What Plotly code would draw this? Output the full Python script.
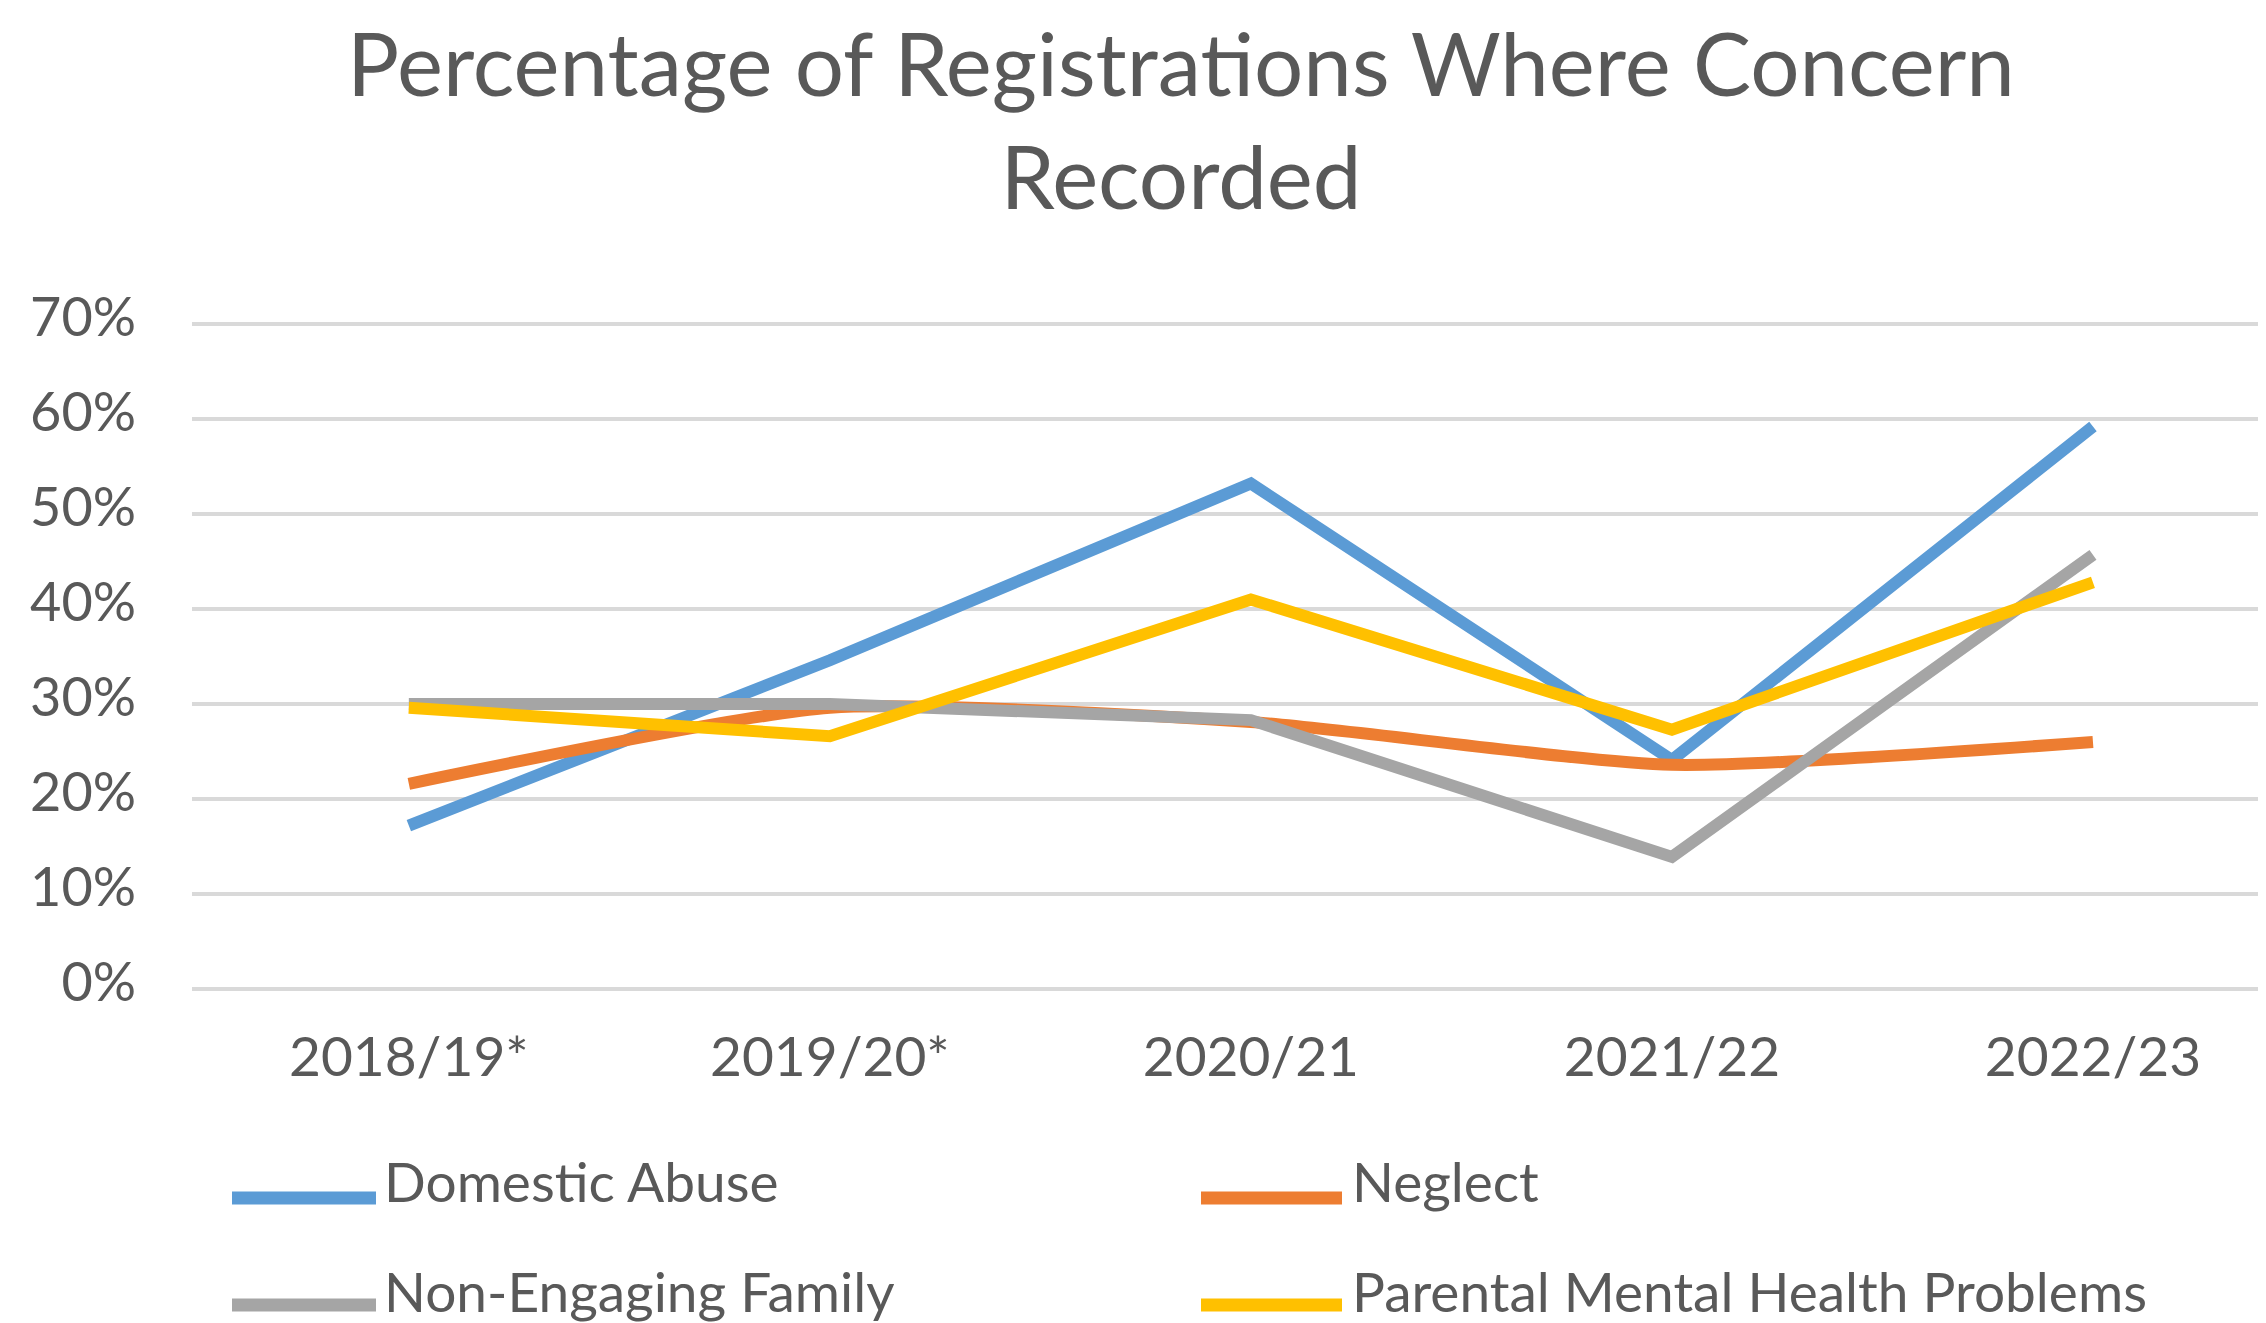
import plotly.graph_objects as go

categories = ["2018/19*", "2019/20*", "2020/21", "2021/22", "2022/23"]
domestic_abuse = [17.2, 34.6, 53.2, 24.1, 59.2]
neglect = [21.6, 29.6, 28.1, 23.6, 26.0]
non_engaging = [30.0, 30.0, 28.3, 13.9, 45.7]
parental_mh = [29.6, 26.6, 41.0, 27.3, 42.8]

series_names = ["Domestic Abuse", "Neglect", "Non-Engaging Family", "Parental Mental Health Problems"]
series_values = [domestic_abuse, neglect, non_engaging, parental_mh]
colors = ["#5B9BD5", "#ED7D31", "#A5A5A5", "#FFC000"]
y_ticks = [0, 10, 20, 30, 40, 50, 60, 70]
title_text = "Percentage of Registrations Where Concern<br>Recorded"

W, H = 2266, 1323
L, R, T, B = 184, 2266, 314, 981
FONT = "Lato, 'Open Sans', sans-serif"
TXT = "#595959"

fig = go.Figure()
for name, vals, col in zip(series_names, series_values, colors):
    shape = "spline" if name == "Neglect" else "linear"
    fig.add_trace(go.Scatter(
        x=list(range(len(categories))), y=vals, name=name, mode="lines",
        line=dict(color=col, width=12, shape=shape, smoothing=0.6),
        showlegend=False, hoverinfo="x+y+name"))

def px(xp):
    return (xp - L) / (R - L)

def py(yp):
    return (B - yp) / (B - T)

# manual legend
leg_cols = [(224, 368, 374), (1193, 1334, 1342)]
leg_rows = [(1173, 1190), (1283, 1297)]
for i, (name, col) in enumerate(zip(series_names, colors)):
    c = leg_cols[i % 2]
    r_text, r_line = leg_rows[i // 2]
    fig.add_shape(type="line", xref="paper", yref="paper",
                  x0=px(c[0]), x1=px(c[1]), y0=py(r_line), y1=py(r_line),
                  line=dict(color=col, width=13))
    fig.add_annotation(xref="paper", yref="paper", x=px(c[2]), y=py(r_text),
                       text=name, showarrow=False, xanchor="left", yanchor="middle",
                       font=dict(family=FONT, size=55, color=TXT))

fig.update_layout(
    width=W, height=H,
    margin=dict(l=L, r=W - R, t=T, b=H - B, pad=0),
    paper_bgcolor="white", plot_bgcolor="white",
    title=dict(text=title_text, x=1173 / W, xanchor="center", xref="container",
               y=1 - 88 / H, yref="container", yanchor="top",
               font=dict(family=FONT, size=87, color=TXT)),
    xaxis=dict(tickmode="array", tickvals=list(range(len(categories))), ticktext=categories,
               range=[-0.515, 4.43], showgrid=False, zeroline=False, showline=False,
               ticks="", ticklabelstandoff=31,
               tickfont=dict(family=FONT, size=55, color=TXT)),
    yaxis=dict(range=[0, 70.2], tickvals=y_ticks, ticktext=[f"{v}%" for v in y_ticks],
               showgrid=True, gridcolor="#D9D9D9", gridwidth=4,
               zeroline=True, zerolinecolor="#D9D9D9", zerolinewidth=4,
               showline=False, ticks="", ticklabelstandoff=55, ticklabelshift=-7,
               tickfont=dict(family=FONT, size=54, color=TXT)),
)

fig.write_html("out.html")
